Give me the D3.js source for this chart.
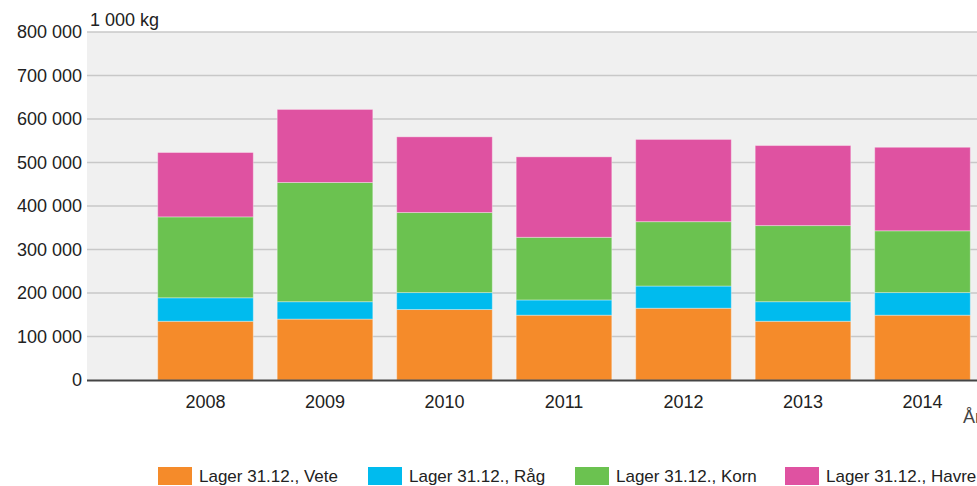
<!DOCTYPE html>
<html>
<head>
<meta charset="utf-8">
<script src="https://cdn.jsdelivr.net/npm/d3@7"></script>
<style>
  body { margin: 0; background: #fff; }
  text { font-family: "Liberation Sans", Arial, sans-serif; fill: #222; }
</style>
</head>
<body>
<div id="chart"></div>
<script>
//////////////////////////////////////////////////////////////////////////////
// Data (1 000 kg)

var years = ["2008", "2009", "2010", "2011", "2012", "2013", "2014"];
var vete  = [135000, 140000, 162000, 149000, 165000, 135000, 149000];
var rag   = [ 54000,  40000,  39000,  35000,  51000,  45000,  52000];
var korn  = [186000, 274000, 184000, 144000, 148000, 175000, 142000];
var havre = [148000, 168000, 174000, 185000, 189000, 184000, 192000];

var seriesNames  = ["Lager 31.12., Vete", "Lager 31.12., Råg", "Lager 31.12., Korn", "Lager 31.12., Havre"];
var seriesColors = ["#f58b2a", "#00bbee", "#6bc250", "#df52a1"];
var yTicks = [0, 100000, 200000, 300000, 400000, 500000, 600000, 700000, 800000];

//////////////////////////////////////////////////////////////////////////////

var width = 977, height = 486;
var plotLeft = 87, plotRight = 1000, plotTop = 32, plotBottom = 380;

var xScale = d3.scaleBand().domain(years).range([145.75, 982.25]).paddingInner(0.2).paddingOuter(0.1);
var yScale = d3.scaleLinear().domain([0, 800000]).range([plotBottom, plotTop]);

var fmt = function(v) { return d3.format(",")(v).replace(/,/g, " "); };

var keys = ["vete", "rag", "korn", "havre"];
var rows = years.map(function(y, i) {
    return { year: y, vete: vete[i], rag: rag[i], korn: korn[i], havre: havre[i] };
});
var stacked = d3.stack().keys(keys)(rows);

var svg = d3.select("#chart")
    .append("svg")
    .attr("width", width)
    .attr("height", height);

svg.append("rect")
    .attr("x", plotLeft).attr("y", plotTop)
    .attr("width", plotRight - plotLeft).attr("height", plotBottom - plotTop)
    .attr("fill", "#f0f0f0");

// grid lines
svg.append("g")
    .selectAll("line")
    .data(yTicks.slice(1))
    .enter()
    .append("line")
    .attr("x1", plotLeft).attr("x2", plotRight)
    .attr("y1", function(d) { return yScale(d); })
    .attr("y2", function(d) { return yScale(d); })
    .attr("stroke", "#c8c8c8")
    .attr("stroke-width", 1.5);

// y labels
svg.append("g")
    .selectAll("text")
    .data(yTicks)
    .enter()
    .append("text")
    .attr("x", 82)
    .attr("y", function(d) { return yScale(d); })
    .attr("dy", "0.35em")
    .attr("text-anchor", "end")
    .style("font-size", "18px")
    .text(fmt);

svg.append("text")
    .attr("x", 90).attr("y", 26)
    .style("font-size", "18px")
    .text("1 000 kg");

// bars
svg.append("g")
    .selectAll("g")
    .data(stacked)
    .enter()
    .append("g")
    .attr("fill", function(d, i) { return seriesColors[i]; })
    .selectAll("rect")
    .data(function(d) { return d; })
    .enter()
    .append("rect")
    .attr("x", function(d) { return xScale(d.data.year); })
    .attr("width", xScale.bandwidth())
    .attr("y", function(d) { return yScale(d[1]); })
    .attr("height", function(d) { return yScale(d[0]) - yScale(d[1]); })
    .attr("stroke", "#ffffff")
    .attr("stroke-opacity", 0.35)
    .attr("stroke-width", 1);

// x axis line
svg.append("line")
    .attr("x1", plotLeft).attr("x2", plotRight)
    .attr("y1", plotBottom + 0.5).attr("y2", plotBottom + 0.5)
    .attr("stroke", "#444")
    .attr("stroke-width", 2);

svg.append("g")
    .selectAll("text")
    .data(years)
    .enter()
    .append("text")
    .attr("x", function(d) { return xScale(d) + xScale.bandwidth() / 2; })
    .attr("y", 408)
    .attr("text-anchor", "middle")
    .style("font-size", "18px")
    .text(function(d) { return d; });

svg.append("text")
    .attr("x", 963).attr("y", 423)
    .style("font-size", "18px")
    .style("fill", "#444")
    .text("År");

// legend
var legendX = [158, 368, 575, 785];
var legend = svg.append("g")
    .selectAll("g")
    .data(seriesNames)
    .enter()
    .append("g")
    .attr("transform", function(d, i) { return "translate(" + legendX[i] + ",467)"; });

legend.append("rect")
    .attr("width", 34).attr("height", 18)
    .attr("fill", function(d, i) { return seriesColors[i]; });

legend.append("text")
    .attr("x", 41).attr("y", 15)
    .style("font-size", "17px")
    .text(function(d) { return d; });
</script>
</body>
</html>
